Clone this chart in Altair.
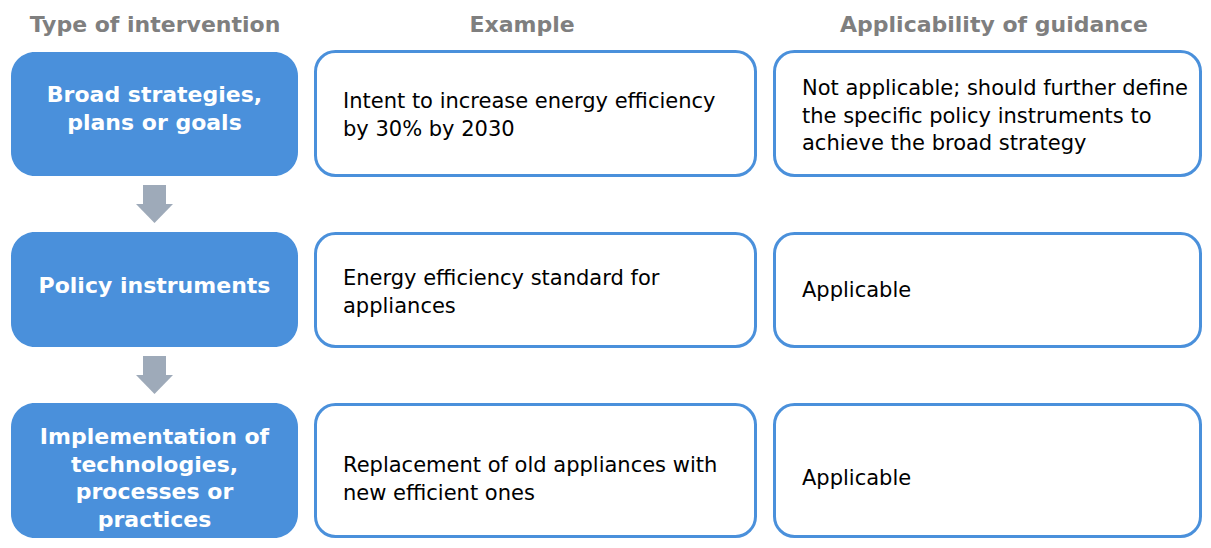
import altair as alt
import pandas as pd

# ---- content ----
headers = ["Type of intervention", "Example", "Applicability of guidance"]
types = [
    "Broad strategies,\nplans or goals",
    "Policy instruments",
    "Implementation of\ntechnologies,\nprocesses or\npractices",
]
examples = [
    "Intent to increase energy efficiency\nby 30% by 2030",
    "Energy efficiency standard for\nappliances",
    "Replacement of old appliances with\nnew efficient ones",
]
applicability = [
    "Not applicable; should further define\nthe specific policy instruments to\nachieve the broad strategy",
    "Applicable",
    "Applicable",
]

# ---- layout (page pixel coordinates) ----
PAGE_W, PAGE_H, MARGIN = 1211, 548, 8
W, H = PAGE_W - 2 * MARGIN, PAGE_H - 2 * MARGIN
BLUE = "#4A90DB"
ARROW = "#9EAAB9"
FONT = "DejaVu Sans"

header_x = [155, 522, 994]
header_base = 32
blue_x = (11, 298)
blue_rows = [(52, 176), (232, 347), (403, 538)]
white_cols = [(315.5, 755.5), (774.5, 1200.5)]
white_rows = [(51.5, 175.5), (233.5, 346.5), (404.5, 536.5)]
type_base = [102, 293, 444]
example_base = [108, 285, 472]
applic_base = [95, 297, 485]
text_left = [343, 802]
arrow_cx, shaft_half, head_half, head_len, gap = 154.5, 11.5, 18.5, 19, 9

xs = alt.Scale(domain=[MARGIN, PAGE_W - MARGIN], nice=False, zero=False)
ys = alt.Scale(domain=[MARGIN, PAGE_H - MARGIN], nice=False, zero=False, reverse=True)


def X(f):
    return alt.X(f, type="quantitative", scale=xs, axis=None)


def Y(f):
    return alt.Y(f, type="quantitative", scale=ys, axis=None)


blue_df = pd.DataFrame(
    [{"x": blue_x[0], "x2": blue_x[1], "y": r[0], "y2": r[1]} for r in blue_rows]
)
white_df = pd.DataFrame(
    [
        {"x": c[0], "x2": c[1], "y": r[0], "y2": r[1]}
        for r in white_rows
        for c in white_cols
    ]
)

shafts, heads = [], []
for i in range(len(blue_rows) - 1):
    top = blue_rows[i][1] + gap
    tip = blue_rows[i + 1][0] - gap
    base = tip - head_len
    shafts.append(
        {"x": arrow_cx - shaft_half, "x2": arrow_cx + shaft_half, "y": top, "y2": base}
    )
    for dx, yy in [(-head_half, base), (0, tip), (head_half, base)]:
        heads.append({"a": i, "x": arrow_cx + dx, "y": base, "y2": yy})
shaft_df = pd.DataFrame(shafts)
head_df = pd.DataFrame(heads)

header_df = pd.DataFrame(
    {"t": headers, "x": header_x, "y": [header_base] * len(headers)}
)
type_df = pd.DataFrame(
    {"t": types, "x": [sum(blue_x) / 2] * len(types), "y": type_base}
)
body_df = pd.DataFrame(
    {
        "t": examples + applicability,
        "x": [text_left[0]] * len(examples) + [text_left[1]] * len(applicability),
        "y": example_base + applic_base,
    }
)

blue_boxes = alt.Chart(blue_df).mark_rect(fill=BLUE, cornerRadius=24).encode(
    x=X("x"), x2="x2", y=Y("y"), y2="y2"
)
white_boxes = alt.Chart(white_df).mark_rect(
    fill="white", stroke=BLUE, strokeWidth=3, cornerRadius=20
).encode(x=X("x"), x2="x2", y=Y("y"), y2="y2")
shaft_marks = alt.Chart(shaft_df).mark_rect(fill=ARROW).encode(
    x=X("x"), x2="x2", y=Y("y"), y2="y2"
)
head_marks = alt.Chart(head_df).mark_area(fill=ARROW, orient="vertical").encode(
    x=X("x"), y=Y("y"), y2="y2", detail="a:N"
)
header_text = alt.Chart(header_df).mark_text(
    font=FONT, fontSize=22, fontWeight="bold", color="#7F7F7F",
    align="center", baseline="alphabetic",
).encode(x=X("x"), y=Y("y"), text="t:N")
type_text = alt.Chart(type_df).mark_text(
    font=FONT, fontSize=22, fontWeight="bold", color="white",
    align="center", baseline="alphabetic", lineBreak="\n", lineHeight=27.5,
).encode(x=X("x"), y=Y("y"), text="t:N")
body_text = alt.Chart(body_df).mark_text(
    font=FONT, fontSize=21, color="black",
    align="left", baseline="alphabetic", lineBreak="\n", lineHeight=27.5,
).encode(x=X("x"), y=Y("y"), text="t:N")

chart = (
    alt.layer(
        blue_boxes, white_boxes, shaft_marks, head_marks,
        header_text, type_text, body_text,
    )
    .properties(width=W, height=H, padding=0, autosize=alt.AutoSizeParams(type="none"))
    .configure_view(strokeWidth=0)
)

chart.save("out.html", embed_options={"renderer": "svg", "actions": False})
